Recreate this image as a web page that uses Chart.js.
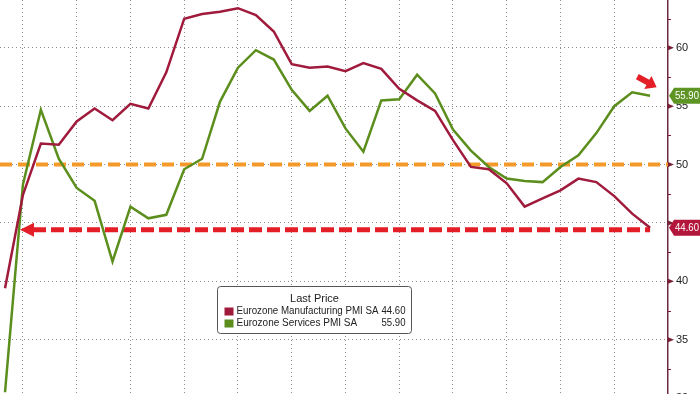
<!DOCTYPE html>
<html>
<head>
<meta charset="utf-8">
<script src="https://cdn.jsdelivr.net/npm/chart.js@4.4.0/dist/chart.umd.min.js"></script>
<style>
  html, body { margin: 0; padding: 0; background: #fff; }
  #wrap { width: 700px; height: 394px; position: relative; }
</style>
</head>
<body>
<div id="wrap"><canvas id="pmiChart"></canvas></div>
<script>
// monthly readings, May 2020 .. May 2023 (flash)
const months = [
  'May 20', 'Jun 20', 'Jul 20', 'Aug 20', 'Sep 20', 'Oct 20', 'Nov 20', 'Dec 20',
  'Jan 21', 'Feb 21', 'Mar 21', 'Apr 21', 'May 21', 'Jun 21', 'Jul 21', 'Aug 21',
  'Sep 21', 'Oct 21', 'Nov 21', 'Dec 21', 'Jan 22', 'Feb 22', 'Mar 22', 'Apr 22',
  'May 22', 'Jun 22', 'Jul 22', 'Aug 22', 'Sep 22', 'Oct 22', 'Nov 22', 'Dec 22',
  'Jan 23', 'Feb 23', 'Mar 23', 'Apr 23', 'May 23',
];
const manufacturing = [
  39.4, 47.4, 51.8, 51.7, 53.7, 54.8, 53.8, 55.2, 54.8, 57.9, 62.5, 62.9, 63.1,
  63.4, 62.8, 61.4, 58.6, 58.3, 58.4, 58.0, 58.7, 58.2, 56.5, 55.5, 54.6, 52.1,
  49.8, 49.6, 48.4, 46.4, 47.1, 47.8, 48.8, 48.5, 47.3, 45.8, 44.6,
];
const services = [
  30.5, 48.3, 54.7, 50.5, 48.0, 46.9, 41.7, 46.4, 45.4, 45.7, 49.6, 50.5, 55.4,
  58.3, 59.8, 59.0, 56.4, 54.6, 55.9, 53.1, 51.1, 55.5, 55.6, 57.7, 56.1, 53.0,
  51.2, 49.8, 48.8, 48.6, 48.5, 49.8, 50.8, 52.7, 55.0, 56.2, 55.9,
];
const seriesNames = ['Eurozone Manufacturing PMI SA', 'Eurozone Services PMI SA'];
const yTicks = [35, 40, 45, 50, 55, 60];
const yMinorTicks = [32.5, 37.5, 42.5, 47.5, 52.5, 57.5, 62.5];
const quarterTicks = [1, 4, 7, 10, 13, 16, 19, 22, 25, 28, 31, 34]; // month index of quarter grid lines
const expansionLine = 50;

const mfgColor = '#a01a3c';
const svcColor = '#5b8e1c';
const font = "'Liberation Sans', Arial, sans-serif";

function toPoints(values) {
  return values.map((v, i) => ({ x: i, y: v }));
}

// no extra room for the outer tick labels, the plot fills the canvas
function noPadding(scale) {
  scale.paddingTop = 0;
  scale.paddingBottom = 0;
  scale.paddingLeft = 0;
  scale.paddingRight = 0;
}

// dashed reference lines go under the series
const refLines = {
  id: 'refLines',
  beforeDatasetsDraw(chart) {
    const { ctx, chartArea } = chart;
    const x = chart.scales.x;
    const y = chart.scales.y;
    const lastMfg = manufacturing[manufacturing.length - 1];

    ctx.save();
    // orange 50 line
    ctx.strokeStyle = '#f39a2b';
    ctx.lineWidth = 4;
    ctx.setLineDash([12, 6]);
    const y50 = y.getPixelForValue(expansionLine);
    ctx.beginPath();
    ctx.moveTo(chartArea.left, y50);
    ctx.lineTo(chartArea.right, y50);
    ctx.stroke();

    // red line at last manufacturing value with arrow head on the left
    const yl = y.getPixelForValue(lastMfg) + 2;
    const tipX = chartArea.left + 20;
    ctx.strokeStyle = '#e31e27';
    ctx.lineWidth = 5;
    ctx.setLineDash([13, 5]);
    ctx.beginPath();
    ctx.moveTo(tipX + 13, yl);
    ctx.lineTo(x.getPixelForValue(months.length - 1), yl);
    ctx.stroke();
    ctx.setLineDash([]);
    ctx.fillStyle = '#e31e27';
    ctx.beginPath();
    ctx.moveTo(tipX, yl);
    ctx.lineTo(tipX + 14, yl - 7);
    ctx.lineTo(tipX + 14, yl + 7);
    ctx.closePath();
    ctx.fill();
    ctx.restore();
  },
};

// axis decorations, value tags, red pointer and the legend box
const overlay = {
  id: 'overlay',
  afterDraw(chart) {
    const { ctx, chartArea } = chart;
    const y = chart.scales.y;
    const right = chartArea.right;

    ctx.save();
    // major tick markers
    ctx.fillStyle = '#7a1f35';
    yTicks.concat([30]).forEach(v => {
      const py = y.getPixelForValue(v);
      ctx.beginPath();
      ctx.moveTo(right, py - 2.5);
      ctx.lineTo(right + 6, py);
      ctx.lineTo(right, py + 2.5);
      ctx.closePath();
      ctx.fill();
    });
    // minor ticks
    ctx.strokeStyle = '#7a1f35';
    ctx.lineWidth = 1;
    yMinorTicks.forEach(v => {
      const py = Math.round(y.getPixelForValue(v)) + 0.5;
      ctx.beginPath();
      ctx.moveTo(right, py);
      ctx.lineTo(right + 3, py);
      ctx.stroke();
    });
    // bottom label, mostly cut off
    ctx.fillStyle = '#222';
    ctx.font = '11px ' + font;
    ctx.textBaseline = 'middle';
    ctx.fillText('30', right + 8, y.getPixelForValue(30));

    // value tags
    const tag = (value, color) => {
      const py = y.getPixelForValue(value);
      ctx.fillStyle = color;
      ctx.beginPath();
      ctx.moveTo(right + 1, py);
      ctx.lineTo(right + 6, py - 8);
      ctx.lineTo(700, py - 8);
      ctx.lineTo(700, py + 8);
      ctx.lineTo(right + 6, py + 8);
      ctx.closePath();
      ctx.fill();
      ctx.fillStyle = '#fff';
      ctx.font = '10.5px ' + font;
      ctx.textAlign = 'left';
      ctx.textBaseline = 'middle';
      ctx.fillText(value.toFixed(2), right + 7, py + 0.5, 24);
    };
    tag(services[services.length - 1], '#5e9424');
    tag(manufacturing[manufacturing.length - 1], '#b3163b');

    // red pointer arrow near the last services value
    ctx.translate(647, 82);
    ctx.rotate(0.5);
    ctx.fillStyle = '#e31e27';
    ctx.beginPath();
    ctx.moveTo(-11, -3);
    ctx.lineTo(1, -3);
    ctx.lineTo(1, -7.5);
    ctx.lineTo(11, 0);
    ctx.lineTo(1, 7.5);
    ctx.lineTo(1, 3);
    ctx.lineTo(-11, 3);
    ctx.closePath();
    ctx.fill();
    ctx.setTransform(1, 0, 0, 1, 0, 0);

    // legend box
    const bx = 217.5, by = 286.5, bw = 194, bh = 47;
    ctx.fillStyle = '#fff';
    ctx.strokeStyle = '#555';
    ctx.lineWidth = 1;
    ctx.beginPath();
    ctx.roundRect(bx, by, bw, bh, 3);
    ctx.fill();
    ctx.stroke();

    ctx.fillStyle = '#222';
    ctx.font = '11px ' + font;
    ctx.textAlign = 'center';
    ctx.textBaseline = 'middle';
    ctx.fillText('Last Price', bx + 97, by + 12);

    const rows = [
      [seriesNames[0], manufacturing[manufacturing.length - 1], mfgColor],
      [seriesNames[1], services[services.length - 1], svcColor],
    ];
    ctx.font = '10px ' + font;
    rows.forEach((r, i) => {
      const ry = by + 25 + i * 12;
      ctx.fillStyle = r[2];
      ctx.fillRect(bx + 7, ry - 4, 9, 8);
      ctx.fillStyle = '#222';
      ctx.textAlign = 'left';
      ctx.fillText(r[0], bx + 19, ry, 142);
      ctx.textAlign = 'right';
      ctx.fillText(r[1].toFixed(2), bx + bw - 6, ry, 24);
    });
    ctx.restore();
  },
};

const ctx = document.getElementById('pmiChart').getContext('2d');
const pmiChart = new Chart(ctx, {
  type: 'line',
  data: {
    datasets: [
      {
        label: seriesNames[0],
        data: toPoints(manufacturing),
        borderColor: mfgColor,
        borderWidth: 2.5,
        pointRadius: 0,
        tension: 0,
      },
      {
        label: seriesNames[1],
        data: toPoints(services),
        borderColor: svcColor,
        borderWidth: 2.5,
        pointRadius: 0,
        tension: 0,
      },
    ],
  },
  options: {
    responsive: true,
    maintainAspectRatio: false,
    animation: false,
    devicePixelRatio: 1,
    layout: { padding: 0 },
    plugins: {
      legend: { display: false },
      tooltip: { enabled: false },
    },
    scales: {
      x: {
        type: 'linear',
        min: -0.28,
        max: 37.0,
        afterBuildTicks: scale => {
          scale.ticks = quarterTicks.map(v => ({ value: v }));
        },
        afterFit: scale => {
          scale.height = 0;
          noPadding(scale);
        },
        ticks: { display: false },
        grid: { color: '#8c8c8c', lineWidth: 1, drawTicks: false },
        border: { display: false, dash: [1, 3] },
      },
      y: {
        position: 'right',
        min: 30.35,
        max: 64.1,
        afterBuildTicks: scale => {
          scale.ticks = yTicks.map(v => ({ value: v }));
        },
        afterFit: scale => {
          scale.width = 32;
          noPadding(scale);
        },
        ticks: {
          color: '#222',
          padding: 8,
          font: { family: font, size: 11 },
          // the 45 label sits under the manufacturing value tag
          callback: v => (v === 45 ? '' : v),
        },
        grid: { color: '#8c8c8c', lineWidth: 1, drawTicks: false },
        border: { display: true, color: '#6d2a3e', width: 1.5, dash: [1, 3] },
      },
    },
  },
  plugins: [refLines, overlay],
});
</script>
</body>
</html>
